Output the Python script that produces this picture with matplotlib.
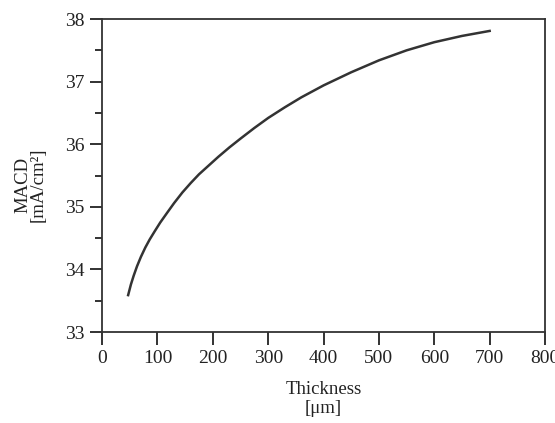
import matplotlib
matplotlib.use("Agg")
from matplotlib import pyplot as plt
from matplotlib.ticker import MultipleLocator

# values
thickness = [47, 52, 57, 63, 70, 78, 86, 95, 105, 117, 130, 145, 160, 175, 190, 210, 230, 250, 275, 300,
             330, 360, 400, 450, 500, 550, 600, 650, 700]
macd = [33.59, 33.76, 33.90, 34.05, 34.20, 34.35, 34.48, 34.61, 34.75, 34.90, 35.06, 35.23, 35.38, 35.52, 35.64,
        35.80, 35.95, 36.09, 36.26, 36.42, 36.59, 36.75, 36.94, 37.15, 37.34, 37.50, 37.63, 37.73, 37.81]

xticks = [0, 100, 200, 300, 400, 500, 600, 700, 800]
yticks = [33, 34, 35, 36, 37, 38]

plt.rcParams['font.family'] = ['Liberation Serif', 'DejaVu Serif']

fig = plt.figure(figsize=(5.55, 4.23), dpi=100)
ax = fig.add_axes([0.184, 0.215, 0.798, 0.74])

ax.plot(thickness, macd, color="#333333", linewidth=1.8)

ax.set_xlim(0, 800)
ax.set_ylim(33, 38)
ax.set_xticks(xticks)
ax.set_yticks(yticks)
ax.yaxis.set_minor_locator(MultipleLocator(0.5))

ax.tick_params(axis='both', which='major', direction='out', length=9, width=1.3,
               labelsize=14, colors='#222222', pad=4)
ax.tick_params(axis='y', which='minor', direction='out', length=5, width=1.3, color='#222222')
for s in ax.spines.values():
    s.set_linewidth(1.3)
    s.set_color('#333333')

ax.set_xlabel("Thickness\n[μm]", fontsize=13.5, color='#222222', linespacing=1.15)
ax.xaxis.set_label_coords(0.5, -0.155)
ax.set_ylabel("MACD\n[mA/cm²]", fontsize=13.5, color='#222222', linespacing=0.85)
ax.yaxis.set_label_coords(-0.125, 0.47)

fig.savefig("out.png", dpi=100)
